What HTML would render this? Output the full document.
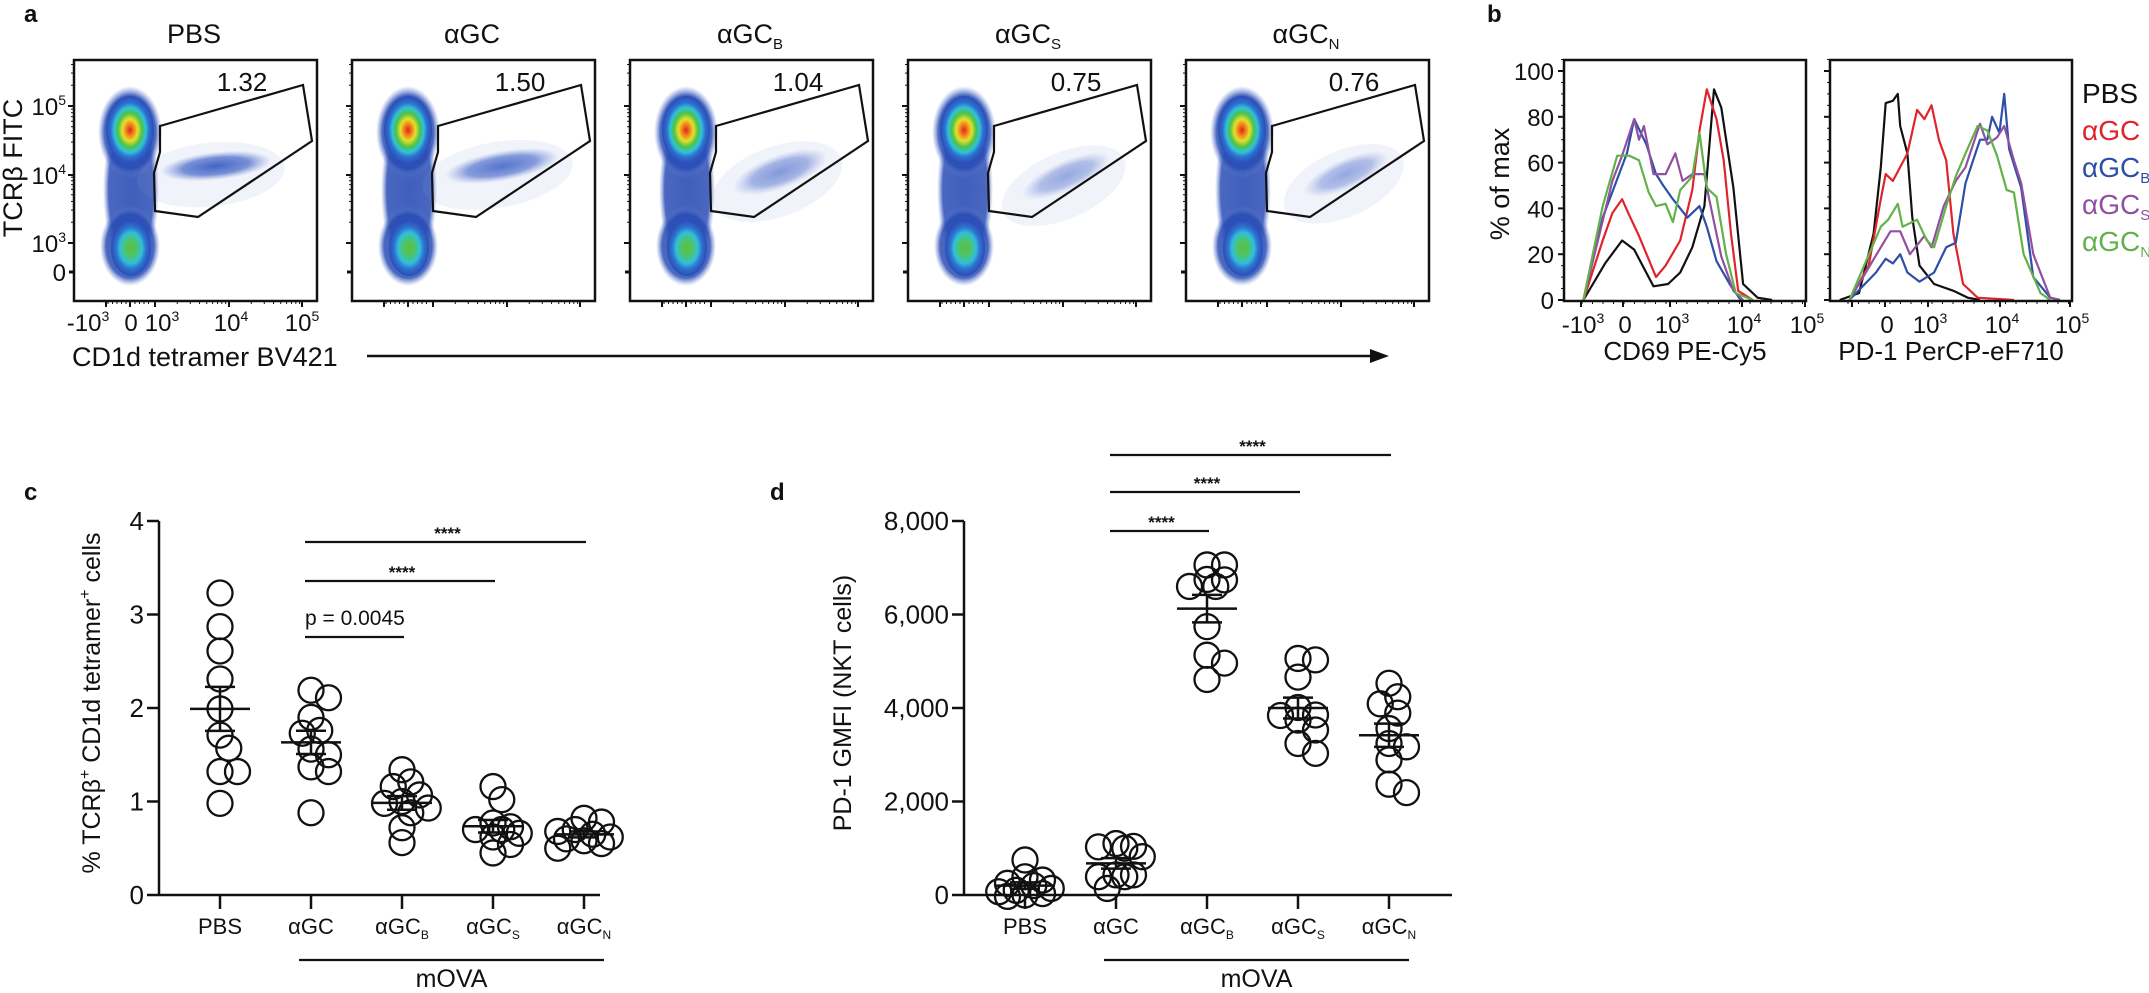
<!DOCTYPE html>
<html><head><meta charset="utf-8"><style>
html,body{margin:0;padding:0;background:#fff;}
svg{display:block;font-family:"Liberation Sans",Arial,sans-serif;}
</style></head><body>
<svg id="fig" width="2149" height="993" viewBox="0 0 2149 993" xmlns="http://www.w3.org/2000/svg">
<defs>
<radialGradient id="hotTop" cx="50%" cy="50%" r="50%">
<stop offset="0" stop-color="#e4231c"/><stop offset="0.18" stop-color="#f08a1c"/><stop offset="0.32" stop-color="#e6e02a"/><stop offset="0.5" stop-color="#4cc24a"/><stop offset="0.66" stop-color="#2fc3d8"/><stop offset="0.8" stop-color="#2f6fd0"/><stop offset="1" stop-color="#2a4db5"/></radialGradient>
<radialGradient id="hotBot" cx="50%" cy="50%" r="50%">
<stop offset="0" stop-color="#5cbf3c"/><stop offset="0.3" stop-color="#4dc46a"/><stop offset="0.55" stop-color="#30c0da"/><stop offset="0.75" stop-color="#2f72d0"/><stop offset="1" stop-color="#2a4db5"/></radialGradient>
<radialGradient id="nkt" cx="50%" cy="50%" r="50%">
<stop offset="0" stop-color="#2f55c0" stop-opacity="0.95"/><stop offset="0.6" stop-color="#3a5ec4" stop-opacity="0.7"/><stop offset="1" stop-color="#6f8ad8" stop-opacity="0"/></radialGradient>
<radialGradient id="halo" cx="50%" cy="50%" r="50%">
<stop offset="0" stop-color="#2a4db5" stop-opacity="0.9"/><stop offset="0.8" stop-color="#2a4db5" stop-opacity="0.85"/><stop offset="1" stop-color="#6a86d6" stop-opacity="0"/></radialGradient>
</defs>
<g id="root"></g>
</svg>
<script>
// ---------- Panel a data ----------
const aTitles = ["PBS","αGC","αGC|B","αGC|S","αGC|N"];
const aGatePct = ["1.32","1.50","1.04","0.75","0.76"];
// ---------- Panel b data: [channel(0-100 display), % of max] ----------
const cd69Black = [[8,0],[17,16],[24,26],[29,22],[32,16],[37,6],[43,7],[48,12],[53,23],[58,41],[62,92],[65,84],[70,49],[74,7],[80,1],[86,0]];
const cd69Red = [[8,0],[16,26],[20,38],[24,44],[27,37],[31,28],[38,10],[42,15],[48,26],[53,48],[56,74],[59,92],[63,79],[66,61],[69,29],[72,4],[78,0]];
const cd69Blue = [[8,0],[16,36],[21,50],[26,64],[29,79],[34,68],[38,55],[41,50],[45,44],[51,36],[56,41],[59,32],[63,17],[69,6],[73,0]];
const cd69Purple = [[8,0],[20,52],[24,63],[29,79],[31,70],[33,76],[37,55],[42,55],[46,64],[49,52],[53,55],[58,55],[60,44],[65,19],[70,4],[74,0]];
const cd69Green = [[8,0],[16,41],[22,63],[27,63],[31,61],[35,47],[38,41],[42,42],[45,34],[48,48],[53,54],[56,73],[59,49],[63,45],[67,20],[71,3],[78,0]];
const pd1Black = [[4,0],[12,3],[18,29],[21,58],[23,86],[26,87],[28,90],[29,76],[32,64],[34,36],[37,15],[43,7],[51,4],[57,1],[62,0]];
const pd1Red = [[8,0],[16,15],[21,44],[23,55],[26,52],[32,64],[36,83],[39,79],[42,85],[45,70],[48,61],[51,29],[55,7],[61,1],[76,0]];
const pd1Blue = [[8,0],[19,12],[23,18],[26,16],[29,20],[32,12],[37,8],[43,12],[48,23],[52,25],[56,51],[62,70],[65,70],[67,80],[70,73],[72,90],[74,66],[79,49],[84,10],[91,1],[95,0]];
const pd1Purple = [[8,0],[21,23],[25,30],[29,30],[33,20],[39,28],[42,23],[47,41],[52,52],[56,58],[62,77],[65,68],[69,71],[72,76],[76,61],[79,51],[84,20],[91,1],[95,0]];
const pd1Green = [[8,0],[21,32],[24,35],[28,42],[30,32],[36,35],[40,26],[43,23],[48,41],[52,54],[56,64],[61,76],[65,74],[69,63],[73,48],[76,47],[80,20],[87,3],[91,0]];
const bTicks = [0,20,40,60,80,100];
// ---------- Panel c data ----------
const categories = ["PBS","αGC","αGC|B","αGC|S","αGC|N"];
const cPBS = [3.23,2.87,2.61,2.31,1.99,1.71,1.57,1.32,1.32,0.98];
const cAGC = [2.19,2.11,1.90,1.76,1.73,1.56,1.50,1.37,1.32,0.88];
const cAGCB = [1.34,1.21,1.16,1.07,1.00,0.98,0.93,0.88,0.72,0.56];
const cAGCS = [1.16,1.02,0.77,0.73,0.70,0.70,0.66,0.62,0.54,0.45];
const cAGCN = [0.82,0.78,0.70,0.68,0.65,0.62,0.60,0.58,0.55,0.50];
const cTicks = [0,1,2,3,4];
// ---------- Panel d data ----------
const dPBS = [750,390,320,250,200,140,100,70,30,0,-30];
const dAGC = [1100,1030,1000,1040,820,430,390,430,390,140];
const dAGCB = [7060,7060,6740,6600,6600,6750,5740,5130,4960,4610];
const dAGCS = [5030,5060,4660,4010,3850,3840,3530,3240,3030,3740];
const dAGCN = [4530,4240,4090,3890,3560,3240,3170,2890,2370,2190];
const dTicks = [0,2000,4000,6000,8000];
const dTickLabels = ["0","2,000","4,000","6,000","8,000"];

const NS="http://www.w3.org/2000/svg";
const root=document.getElementById('root');
function el(tag,attrs,parent){const e=document.createElementNS(NS,tag);for(const k in attrs)e.setAttribute(k,attrs[k]);(parent||root).appendChild(e);return e;}
function line(x1,y1,x2,y2,w,parent,col){return el('line',{x1,y1,x2,y2,stroke:col||'#111','stroke-width':w||2},parent);}
function catText(t,x,y,size,anchor,parent,fill){
  const parts=t.split('|');
  const e=el('text',{x,y,'font-size':size,'text-anchor':anchor||'middle',fill:fill||'#111'},parent);
  e.appendChild(document.createTextNode(parts[0]));
  if(parts[1]){const s=document.createElementNS(NS,'tspan');s.setAttribute('font-size',Math.round(size*0.55));s.setAttribute('dy',Math.round(size*0.22));s.textContent=parts[1];e.appendChild(s);}
  return e;
}
function supText(base,exp,x,y,size,anchor,parent){
  const e=el('text',{x,y,'font-size':size,'text-anchor':anchor||'middle',fill:'#111'},parent);
  e.appendChild(document.createTextNode(base));
  if(exp){const s=document.createElementNS(NS,'tspan');s.setAttribute('font-size',Math.round(size*0.6));s.setAttribute('dy',-Math.round(size*0.42));s.textContent=exp;e.appendChild(s);}
  return e;
}
function label(t,x,y){const e=el('text',{x,y,'font-size':24,'font-weight':'bold',fill:'#111'});e.textContent=t;return e;}

// ================= Panel a =================
const pa=el('g',{});


const la=label('a',24,22);
const BOXW=243, BT=60, BB=301;
const nktShapes=[[142,166,56,14,-6,0.95],[150,166,58,15,-10,0.85],[150,172,50,17,-20,0.6],[158,176,48,15,-24,0.5],[160,174,46,15,-24,0.5]];
aTitles.forEach((t,i)=>{
  const ox=74+i*278;
  const g=el('g',{},pa);
  
  
  const tt=catText(t,ox+120,43,27,'middle',g);
  
  
  el('ellipse',{cx:ox+57,cy:190,rx:28,ry:82,fill:'url(#halo)'},g);
  el('ellipse',{cx:ox+56,cy:132,rx:32,ry:46,fill:'url(#halo)'},g);
  el('ellipse',{cx:ox+56,cy:246,rx:30,ry:40,fill:'url(#halo)'},g);
  el('ellipse',{cx:ox+56,cy:130,rx:24,ry:34,fill:'url(#hotTop)'},g);
  el('ellipse',{cx:ox+57,cy:248,rx:20,ry:28,fill:'url(#hotBot)'},g);
  const s=nktShapes[i];
  el('ellipse',{cx:ox+s[0]-6,cy:s[1]+8,rx:s[2]+18,ry:s[3]+18,fill:'#8aa0e0',opacity:0.12,transform:`rotate(${s[4]} ${ox+s[0]} ${s[1]})`},g);
  const nk=el('ellipse',{cx:ox+s[0],cy:s[1],rx:s[2],ry:s[3],fill:'url(#nkt)',opacity:s[5],transform:`rotate(${s[4]} ${ox+s[0]} ${s[1]})`},g);
  
  
  el('rect',{x:ox,y:BT,width:BOXW,height:BB-BT,fill:'none',stroke:'#111','stroke-width':2.5},g);
  const gp=[[86,126],[229,85],[238,141],[124,217],[81,211],[80,173],[86,152]].map(p=>(ox+p[0])+','+p[1]).join(' ');
  const gate=el('polygon',{points:gp,fill:'none',stroke:'#111','stroke-width':2.2},g);
  
  
  const num=el('text',{x:ox+168,y:91,'font-size':26,'text-anchor':'middle',fill:'#111'},g);
  num.textContent=aGatePct[i];
  
  
  [106,175,243].forEach(v=>line(ox-6,v,ox,v,2,g));
  line(ox-5,272,ox,272,3,g);
  for(let k=0;k<3;k++){for(let m=2;m<10;m++){const yy=[106,175,243][k]+Math.log10(m)*(-69);if(yy>BT+2)line(ox-3,yy,ox,yy,1,g);}}
  [106,130,155,229,302].forEach(v=>line(ox+v-74,BB,ox+v-74,BB+6,2,g));
  for(let k=0;k<2;k++){for(let m=2;m<10;m++){const xx=ox+[155,229][k]-74+Math.log10(m)*74;line(xx,BB,xx,BB+3,1,g);}}
  for(let m=0;m<10;m++){line(ox+108+m*4.5-74,BB,ox+108+m*4.5-74,BB+3,1,g);}
});
[["-10","3",88],["0","",131],["10","3",162],["10","4",231],["10","5",302]].forEach(t=>supText(t[0],t[1],t[2],331,24,'middle',pa));
[["10","5",106],["10","4",175],["10","3",243],["0","",272]].forEach(t=>supText(t[0],t[1],66,t[2]+9,24,'end',pa));
const axt=el('text',{x:72,y:366,'font-size':27,fill:'#111'},pa);axt.textContent='CD1d tetramer BV421';

const ayt=el('text',{x:0,y:0,'font-size':27,'text-anchor':'middle',fill:'#111',transform:'translate(22 168) rotate(-90)'},pa);ayt.textContent='TCRβ FITC';

const arr=el('g',{},pa);
line(367,356,1376,356,2.5,arr);
el('polygon',{points:'1370,349 1389,356 1370,363',fill:'#111'},arr);

// ================= Panel b =================
const pb=el('g',{});


const lb=label('b',1487,22);
const bY=v=>300-v*2.29;
const colors={black:'#111',red:'#e0242b',blue:'#2e4fa8',purple:'#9150a0',green:'#62b14a'};
function histo(ox,series,name,xt,xlab){
  const g=el('g',{},pb);
  
  
  const bx=c=>ox+c*2.42;
  series.forEach(s=>{
    const p=el('polyline',{points:s[0].map(d=>bx(d[0]).toFixed(1)+','+bY(d[1]).toFixed(1)).join(' '),fill:'none',stroke:s[1],'stroke-width':2.2,'stroke-linejoin':'round'},g);
    
    
  });
  el('rect',{x:ox,y:60,width:242,height:241,fill:'none',stroke:'#111','stroke-width':2.5},g);
  bTicks.forEach(v=>line(ox-6,bY(v),ox,bY(v),2,g));
  for(let v=5;v<100;v+=5){if(v%20)line(ox-3,bY(v),ox,bY(v),1,g);}
  line(ox-3,bY(105),ox,bY(105),1,g);
  xt.forEach(t=>{line(t[0],301,t[0],307,2,g);if(t[1]!==null)supText(t[1],t[2],t[0]+2,333,24,'middle',g);});
  for(let m=0;m<22;m++){line(ox+18+m*10.5,301,ox+18+m*10.5,304,1,g);}
  const xl=el('text',{x:ox+121,y:360,'font-size':26,'text-anchor':'middle',fill:'#111'},g);xl.textContent=xlab;
  
}
histo(1564,[[cd69Black,colors.black,'pbs'],[cd69Red,colors.red,'agc'],[cd69Blue,colors.blue,'agc-b'],[cd69Purple,colors.purple,'agc-s'],[cd69Green,colors.green,'agc-n']],'cd69-histogram-plot',
 [[1581,'-10','3'],[1623,'0',''],[1670,'10','3'],[1742,'10','4'],[1805,'10','5']],'CD69 PE-Cy5');
histo(1830,[[pd1Black,colors.black,'pbs'],[pd1Red,colors.red,'agc'],[pd1Blue,colors.blue,'agc-b'],[pd1Purple,colors.purple,'agc-s'],[pd1Green,colors.green,'agc-n']],'pd1-histogram-plot',
 [[1852,null,''],[1885,'0',''],[1928,'10','3'],[2000,'10','4'],[2070,'10','5']],'PD-1 PerCP-eF710');
bTicks.forEach(v=>{const t=el('text',{x:1554,y:bY(v)+9,'font-size':24,'text-anchor':'end',fill:'#111'},pb);t.textContent=v;});
const byt=el('text',{x:0,y:0,'font-size':27,'text-anchor':'middle',fill:'#111',transform:'translate(1509 184) rotate(-90)'},pb);byt.textContent='% of max';

const leg=el('g',{},pb);
[["PBS",colors.black],["αGC",colors.red],["αGC|B",colors.blue],["αGC|S",colors.purple],["αGC|N",colors.green]].forEach((l,i)=>{
  const t=catText(l[0],2082,103+i*37,28,'start',leg,l[1]);
  
  
});

// ================= Dot plots (c, d) =================
function mean(a){return a.reduce((s,v)=>s+v,0)/a.length;}
function sem(a){const m=mean(a);return Math.sqrt(a.reduce((s,v)=>s+(v-m)*(v-m),0)/(a.length-1))/Math.sqrt(a.length);}
function swarm(ys,r){
  const placed=[];const order=ys.map((y,i)=>i).sort((a,b)=>ys[a]-ys[b]);
  const off=new Array(ys.length).fill(0);
  const cands=[0,r*0.7,-r*0.7,r*1.4,-r*1.4,r*2.1,-r*2.1];
  order.forEach(i=>{
    let best=0,bestD=-1;
    for(const c of cands){
      const d=placed.length?Math.min(...placed.map(p=>Math.hypot(p[0]-c,p[1]-ys[i]))):1e9;
      if(d>=r*1.1){best=c;bestD=d;break;}
      if(d>bestD){bestD=d;best=c;}
    }
    off[i]=best;placed.push([best,ys[i]]);
  });
  return off;
}
function dotPlot(opts){
  const g=el('g',{});
  
  
  const y=v=>opts.y0-(v-opts.min)/(opts.max-opts.min)*(opts.y0-opts.y1);
  const xc=i=>opts.x0+61+i*91;
  line(opts.x0,opts.y1,opts.x0,opts.y0,2.5,g);
  line(opts.x0,opts.y0,opts.xEnd,opts.y0,2.5,g);
  opts.ticks.forEach((v,k)=>{line(opts.x0-12,y(v),opts.x0,y(v),2.5,g);
    const t=el('text',{x:opts.x0-15,y:y(v)+9,'font-size':26,'text-anchor':'end',fill:'#111'},g);t.textContent=opts.tickLabels[k];
    });
  const yt=el('text',{x:0,y:0,'font-size':25,'text-anchor':'middle',fill:'#111',transform:`translate(${opts.titleX} 703) rotate(-90)`},g);
  yt.innerHTML=opts.title;
  
  const R=12.5;
  opts.groups.forEach((vals,i)=>{
    const cx=xc(i);
    line(cx,opts.y0,cx,opts.y0+14,2.5,g);
    const ct=catText(categories[i],cx,opts.y0+39,22,'middle',g);
    
    const ys=vals.map(y);
    const off=swarm(ys,R);
    vals.forEach((v,j)=>{
      const c=el('circle',{cx:cx+off[j],cy:y(v),r:R,fill:'none',stroke:'#111','stroke-width':2.3},g);
      
      
    });
    const m=mean(vals),se=sem(vals);
    const ml=line(cx-30,y(m),cx+30,y(m),2.5,g);
    
    line(cx,y(m+se),cx,y(m-se),2.5,g);
    line(cx-15,y(m+se),cx+15,y(m+se),2.5,g);
    line(cx-15,y(m-se),cx+15,y(m-se),2.5,g);
  });
  opts.sig.forEach(s=>{
    const sg=el('g',{},g);
    line(xc(s[0])-6,s[2],xc(s[1])+2,s[2],2.2,sg);
    const t=el('text',{x:s[4]==='p'?xc(s[0])-6:(xc(s[0])+xc(s[1]))/2,y:s[2]-(s[4]==='p'?12:3),'font-size':s[4]==='p'?21:17,'text-anchor':s[4]==='p'?'start':'middle',fill:'#111','font-weight':s[4]==='p'?'normal':'bold'},sg);
    t.textContent=s[3];
  });
  const mg=el('g',{},g);
  line(xc(1)-12,opts.y0+65,xc(4)+20,opts.y0+65,2.2,mg);
  const mt=el('text',{x:(xc(1)+xc(4))/2+4,y:opts.y0+92,'font-size':25,'text-anchor':'middle',fill:'#111'},mg);mt.textContent='mOVA';
}
const lc=label('c',24,500);
const ld=label('d',770,500);
dotPlot({name:'panel-c-tcr-dotplot',x0:159,xEnd:600,y0:895,y1:521,min:0,max:4,ticks:cTicks,tickLabels:cTicks.map(String),
  groups:[cPBS,cAGC,cAGCB,cAGCS,cAGCN],titleX:100,
  title:'% TCRβ<tspan dy="-10" font-size="16">+</tspan><tspan dy="10"> CD1d tetramer</tspan><tspan dy="-10" font-size="16">+</tspan><tspan dy="10"> cells</tspan>',
  sig:[[1,4,542,'****','s'],[1,3,581,'****','s'],[1,2,637,'p = 0.0045','p']]});
dotPlot({name:'panel-d-pd1-dotplot',x0:964,xEnd:1452,y0:895,y1:521,min:0,max:8000,ticks:dTicks,tickLabels:dTickLabels,
  groups:[dPBS,dAGC,dAGCB,dAGCS,dAGCN],titleX:851,title:'PD-1 GMFI (NKT cells)',
  sig:[[1,4,455,'****','s'],[1,3,492,'****','s'],[1,2,531,'****','s']]});
</script>
</body></html>
